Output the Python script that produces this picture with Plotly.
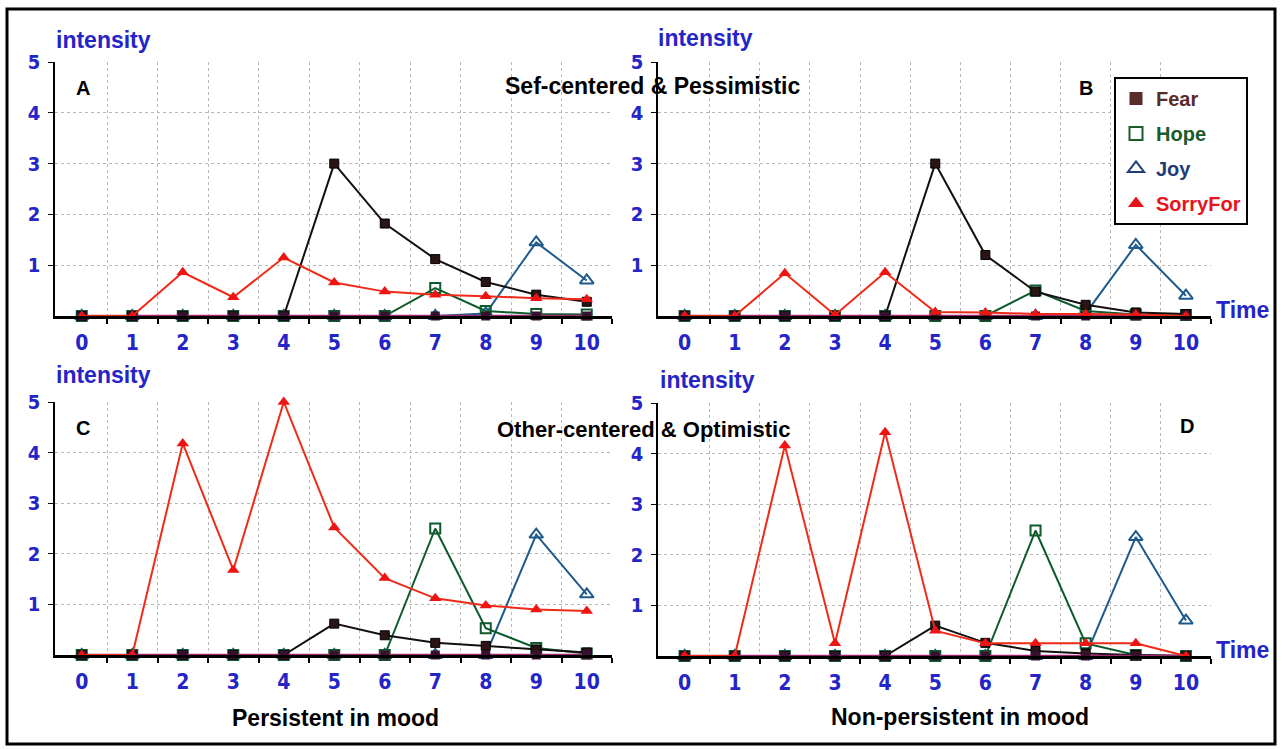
import plotly.graph_objects as go

W, H = 1284, 749

# ---------------- data ----------------
time_steps = [0, 1, 2, 3, 4, 5, 6, 7, 8, 9, 10]
time_labels = ["0", "1", "2", "3", "4", "5", "6", "7", "8", "9", "10"]
intensity_ticks = [1, 2, 3, 4, 5]
series_names = ["Fear", "Hope", "Joy", "SorryFor"]

# Panel A: Self-centered & Pessimistic, persistent in mood
a_fear = [0, 0, 0, 0, 0, 3.0, 1.82, 1.12, 0.67, 0.42, 0.28]
a_hope = [0, 0, 0, 0, 0, 0, 0, 0.55, 0.10, 0.04, 0.03]
a_joy = [0, 0, 0, 0, 0, 0, 0, 0, 0.05, 1.45, 0.70]
a_sorryfor = [0, 0, 0.86, 0.37, 1.15, 0.66, 0.48, 0.42, 0.39, 0.35, 0.33]

# Panel B: Self-centered & Pessimistic, non-persistent in mood
b_fear = [0, 0, 0, 0, 0, 3.0, 1.20, 0.48, 0.22, 0.07, 0.04]
b_hope = [0, 0, 0, 0, 0, 0, 0, 0.50, 0.10, 0.03, 0.02]
b_joy = [0, 0, 0, 0, 0, 0, 0, 0, 0.05, 1.40, 0.40]
b_sorryfor = [0, 0, 0.84, 0.02, 0.86, 0.08, 0.07, 0.04, 0.04, 0.03, 0.0]

# Panel C: Other-centered & Optimistic, persistent in mood
c_fear = [0, 0, 0, 0, 0, 0.62, 0.39, 0.24, 0.18, 0.11, 0.05]
c_hope = [0, 0, 0, 0, 0, 0, 0, 2.50, 0.53, 0.14, 0.03]
c_joy = [0, 0, 0, 0, 0, 0, 0, 0, 0, 2.38, 1.20]
c_sorryfor = [0, 0, 4.18, 1.68, 5.0, 2.52, 1.52, 1.12, 0.98, 0.90, 0.87]

# Panel D: Other-centered & Optimistic, non-persistent in mood
d_fear = [0, 0, 0, 0, 0, 0.60, 0.26, 0.10, 0.05, 0.02, 0]
d_hope = [0, 0, 0, 0, 0, 0, 0, 2.48, 0.25, 0.02, 0]
d_joy = [0, 0, 0, 0, 0, 0, 0, 0, 0, 2.35, 0.70]
d_sorryfor = [0, 0, 4.16, 0.25, 4.42, 0.50, 0.25, 0.25, 0.25, 0.25, 0]

# other (unlisted) emotions that stay at zero
other_emotions = [0, 0, 0, 0, 0, 0, 0, 0, 0, 0, 0]

# ---------------- styling ----------------
BLUE = "#2424c8"
FONT = "Liberation Sans, Arial, sans-serif"
NARROW = "Liberation Sans Narrow, Arial Narrow, DejaVu Sans Condensed, Liberation Sans, sans-serif"

style = {
    "Fear": dict(line="#141010", marker=dict(symbol="square", size=9, color="#2a1414",
                                               line=dict(color="#000000", width=1))),
    "Hope": dict(line="#0d5a2d", marker=dict(symbol="square-open", size=10, color="#0d5a2d",
                                               line=dict(color="#0d5a2d", width=2))),
    "Joy": dict(line="#1f5a8c", marker=dict(symbol="triangle-up-open", size=12, color="#1f5a8c",
                                             line=dict(color="#1f5a8c", width=2))),
    "SorryFor": dict(line="#f02a18", marker=dict(symbol="triangle-up", size=11, color="#ee1414")),
}

def px_x(x):
    return x / W

def px_y(y):
    return 1 - y / H

panels = [
    ("x", "y", dict(Fear=a_fear, Hope=a_hope, Joy=a_joy, SorryFor=a_sorryfor), (55, 612), (62, 316)),
    ("x2", "y2", dict(Fear=b_fear, Hope=b_hope, Joy=b_joy, SorryFor=b_sorryfor), (658, 1211), (62, 316)),
    ("x3", "y3", dict(Fear=c_fear, Hope=c_hope, Joy=c_joy, SorryFor=c_sorryfor), (55, 612), (402, 655)),
    ("x4", "y4", dict(Fear=d_fear, Hope=d_hope, Joy=d_joy, SorryFor=d_sorryfor), (658, 1211), (403, 656)),
]

fig = go.Figure()

for xa, ya, data, _, _ in panels:
    for name in ["Joy", "Hope", "Fear"]:
        st = style[name]
        fig.add_trace(go.Scatter(x=time_steps, y=data[name], mode="lines+markers", name=name,
                                 xaxis=xa, yaxis=ya, line=dict(color=st["line"], width=2),
                                 marker=st["marker"], showlegend=False, cliponaxis=False))
    fig.add_trace(go.Scatter(x=time_steps, y=other_emotions, mode="lines+markers", name="other",
                             xaxis=xa, yaxis=ya, line=dict(color="#a02870", width=2.5),
                             marker=dict(symbol="square", size=9, color="#3a1030"),
                             showlegend=False, cliponaxis=False))
    st = style["SorryFor"]
    fig.add_trace(go.Scatter(x=time_steps, y=data["SorryFor"], mode="lines+markers", name="SorryFor",
                             xaxis=xa, yaxis=ya, line=dict(color=st["line"], width=2),
                             marker=st["marker"], showlegend=False, cliponaxis=False))

# legend-only entries (marker symbols as in the original key)
legend_style = {
    "Fear": ("#5a2b2b", dict(symbol="square", size=13, color="#5a2b2b")),
    "Hope": ("#1b5a2b", dict(symbol="square-open", size=13, color="#1b5a2b", line=dict(width=2))),
    "Joy": ("#1d3c78", dict(symbol="triangle-up-open", size=14, color="#1d3c78", line=dict(width=2))),
    "SorryFor": ("#e8141c", dict(symbol="triangle-up", size=14, color="#e8141c")),
}
for name in series_names:
    col, mk = legend_style[name]
    fig.add_trace(go.Scatter(x=[None], y=[None], mode="markers", xaxis="x2", yaxis="y2",
                             name=f"<span style='color:{col}'>{name}</span>", marker=mk,
                             legendgroup=name, showlegend=True))

layout = dict(
    width=W, height=H, margin=dict(l=0, r=0, t=0, b=0, autoexpand=False), autosize=False,
    paper_bgcolor="white", plot_bgcolor="white",
    showlegend=True,
    legend=dict(x=px_x(1114), y=px_y(77), xanchor="left", yanchor="top",
                bgcolor="white", bordercolor="black", borderwidth=2,
                font=dict(family=FONT, size=20, weight="bold"),
                tracegroupgap=6, traceorder="grouped", itemsizing="trace"),
)

for i, (xa, ya, _, (x0, x1), (y0, y1)) in enumerate(panels):
    xkey = "xaxis" if xa == "x" else "xaxis" + xa[1:]
    ykey = "yaxis" if ya == "y" else "yaxis" + ya[1:]
    layout[xkey] = dict(
        domain=[px_x(x0), px_x(x1)], anchor=ya, range=[-0.53, 10.5], automargin=False,
        tickmode="array", tickvals=time_steps, ticktext=time_labels,
        showgrid=False, zeroline=False, ticks="", showline=True, linecolor="black", linewidth=2.5,
        tickfont=dict(family=NARROW, size=21, color=BLUE, weight="bold"),
        ticklabelstandoff=6,
        minor=dict(tickmode="array", tickvals=[t + 0.5 for t in time_steps], showgrid=True,
                   gridcolor="#b8b8b8", griddash="dot", gridwidth=1,
                   ticks="outside", ticklen=5, tickcolor="black", tickwidth=1.5),
    )
    layout[ykey] = dict(
        domain=[px_y(y1), px_y(y0)], anchor=xa, range=[0, 5], automargin=False,
        tickmode="array", tickvals=intensity_ticks,
        showgrid=True, gridcolor="#b8b8b8", griddash="dot", gridwidth=1,
        zeroline=False, showline=True, linecolor="black", linewidth=1.5,
        ticks="outside", ticklen=5, tickcolor="black",
        tickfont=dict(family=NARROW, size=20, color=BLUE, weight="bold"),
        ticklabelstandoff=4,
    )

fig.update_layout(**layout)

def txt(x, y, s, size=21, color="black", xanchor="center"):
    fig.add_annotation(x=px_x(x), y=px_y(y), xref="paper", yref="paper", text=s, showarrow=False,
                       xanchor=xanchor, yanchor="middle",
                       font=dict(family=FONT, size=size, color=color, weight="bold"))

# axis titles
txt(54, 40, "intensity", size=23, color=BLUE, xanchor="left")
txt(656, 38, "intensity", size=23, color=BLUE, xanchor="left")
txt(54, 375, "intensity", size=23, color=BLUE, xanchor="left")
txt(658, 380, "intensity", size=23, color=BLUE, xanchor="left")
txt(1214, 310, "Time", size=23, color=BLUE, xanchor="left")
txt(1214, 650, "Time", size=23, color=BLUE, xanchor="left")
# panel letters
txt(83, 88, "A", size=20)
txt(1086, 88, "B", size=20)
txt(83, 428, "C", size=20)
txt(1187, 426, "D", size=20)
# headings
txt(653, 86, "Sef-centered &amp; Pessimistic", size=23)
txt(643, 429, "Other-centered &amp; Optimistic", size=22)
txt(335, 718, "Persistent in mood", size=23)
txt(960, 717, "Non-persistent in mood", size=23)

# outer frame
fig.add_shape(type="rect", xref="paper", yref="paper", x0=px_x(7), x1=px_x(1275), y0=px_y(744), y1=px_y(9),
              line=dict(color="black", width=3), fillcolor="rgba(0,0,0,0)", layer="above")

fig.write_html("out.html", config={"displayModeBar": False},
               post_script="document.body.style.margin='0';document.body.style.overflow='hidden';")
